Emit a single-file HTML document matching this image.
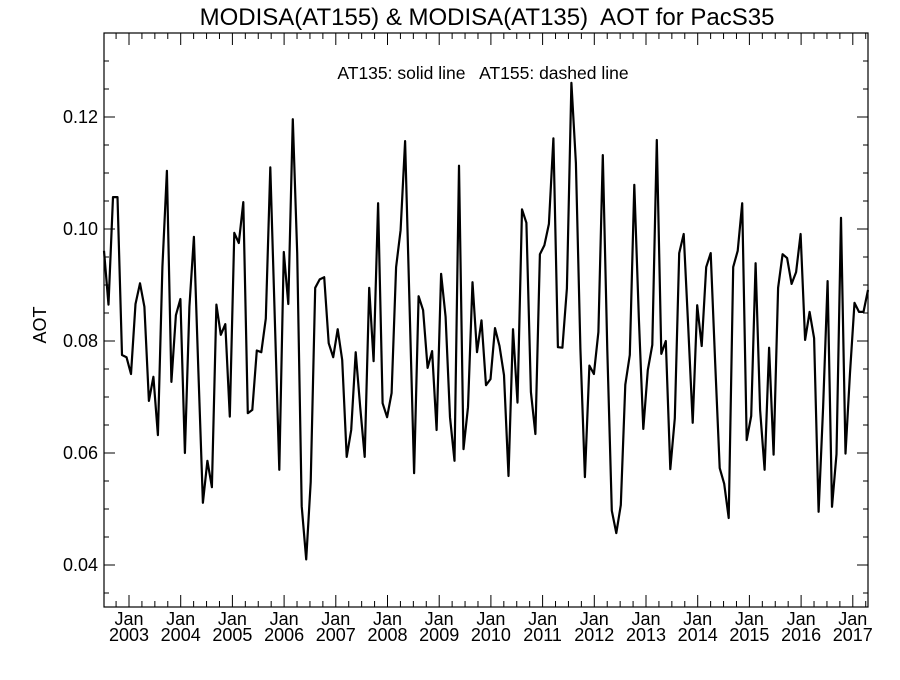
<!DOCTYPE html>
<html><head><meta charset="utf-8"><style>
body{margin:0;background:#fff}
svg text{font-family:"Liberation Sans",sans-serif;fill:#000}
</style></head><body>
<svg width="900" height="675" xmlns="http://www.w3.org/2000/svg">
<text x="487" y="25" font-size="24" text-anchor="middle">MODISA(AT155) &amp; MODISA(AT135)&#160; AOT for PacS35</text>
<text x="483" y="79" font-size="17.5" text-anchor="middle">AT135: solid line&#160;&#160; AT155: dashed line</text>
<text x="46" y="325" font-size="18" text-anchor="middle" transform="rotate(-90 46 325)">AOT</text>
<rect x="104" y="33" width="764" height="574" fill="none" stroke="#000" stroke-width="1.2"/>
<g id="axes"></g>
<path id="series" fill="none" stroke="#000" stroke-width="2.2" stroke-linejoin="round"/>
</svg>
<script>
const aot135 = [0.0961,0.0865,0.1057,0.1057,0.0775,0.0771,0.0741,0.0866,0.0903,0.0861,0.0693,0.0736,0.0632,0.0932,0.1104,0.0727,0.0846,0.0875,0.0600,0.0861,0.0986,0.0745,0.0511,0.0586,0.0539,0.0865,0.0811,0.0830,0.0665,0.0993,0.0975,0.1048,0.0671,0.0677,
0.0783,0.0780,0.0840,0.1110,0.0840,0.0570,0.0959,0.0866,0.1196,0.0957,0.0505,0.0410,0.0548,0.0895,0.0910,0.0914,0.0796,0.0771,0.0821,0.0766,0.0593,0.0641,0.0780,0.0682,0.0593,0.0895,0.0764,0.1046,0.0689,0.0664,0.0707,0.0932,0.0998,0.1157,
0.0860,0.0564,0.0880,0.0855,0.0752,0.0782,0.0641,0.0920,0.0843,0.0664,0.0586,0.1113,0.0607,0.0682,0.0905,0.0780,0.0837,0.0721,0.0732,0.0823,0.0791,0.0739,0.0559,0.0821,0.0690,0.1035,0.1011,0.0709,0.0634,0.0955,0.0971,0.1009,0.1162,
0.0789,0.0788,0.0894,0.1261,0.1118,0.0786,0.0557,0.0756,0.0741,0.0816,0.1132,0.0784,0.0497,0.0457,0.0507,0.0722,0.0775,0.1079,0.0843,0.0643,0.0748,0.0793,0.1159,0.0777,0.0800,0.0571,0.0662,0.0957,0.0991,0.0826,0.0654,0.0864,0.0791,0.0932,0.0957,
0.0760,0.0573,0.0545,0.0484,0.0932,0.0961,0.1046,0.0623,0.0666,0.0939,0.0677,0.0570,0.0788,0.0597,0.0895,0.0955,0.0948,0.0902,0.0923,0.0991,0.0802,0.0852,0.0805,0.0495,0.0681,0.0907,0.0504,0.0598,0.1020,0.0599,0.0743,0.0868,0.0852,0.0852,0.0891];
const yTicks = [0.04,0.06,0.08,0.10,0.12];
const yTickLabels = ["0.04","0.06","0.08","0.10","0.12"];
const years = [2003,2004,2005,2006,2007,2008,2009,2010,2011,2012,2013,2014,2015,2016,2017];

const X0=104,X1=868,Y0=33,Y1=607;
function yScale(v){return 117+(0.12-v)*5600;}
function xYear(y){return 129+(y-2003)*51.7;}
function xIdx(i){return X0+i*(X1-X0)/(aot135.length-1);}
const NS="http://www.w3.org/2000/svg";
const g=document.getElementById('axes');
function line(x1,y1,x2,y2,name){const l=document.createElementNS(NS,'line');l.setAttribute('x1',x1);l.setAttribute('y1',y1);l.setAttribute('x2',x2);l.setAttribute('y2',y2);l.setAttribute('stroke','#000');l.setAttribute('stroke-width','1');


g.appendChild(l);}
function text(x,y,s,anchor,name){const t=document.createElementNS(NS,'text');t.setAttribute('x',x);t.setAttribute('y',y);t.setAttribute('font-size','18');t.setAttribute('text-anchor',anchor);t.textContent=s;


g.appendChild(t);}
for(let v=0.035;v<=0.1351;v+=0.005){const y=yScale(v);if(y<Y0||y>Y1)continue;line(X0,y,X0+5,y,'y-minor-tick');line(X1,y,X1-5,y,'y-minor-tick');}
yTicks.forEach((v,i)=>{const y=yScale(v);line(X0,y,X0+11,y,'y-major-tick');line(X1,y,X1-11,y,'y-major-tick');text(X0-6,y+6,yTickLabels[i],'end','y-tick-label');});
for(let yr=2002;yr<=2018;yr++){for(let q=0;q<4;q++){const x=xYear(yr+q/4);if(x<X0+1||x>X1-1)continue;const len=q===0?12:6;line(x,Y1,x,Y1-len,'x-tick');line(x,Y0,x,Y0+len,'x-tick');}}
years.forEach(yr=>{const x=xYear(yr);text(x,625,'Jan','middle','x-tick-month');text(x,641,String(yr),'middle','x-tick-year');});
let d='';aot135.forEach((v,i)=>{d+=(i?'L':'M')+xIdx(i).toFixed(1)+' '+yScale(v).toFixed(1);});
document.getElementById('series').setAttribute('d',d);
</script>
</body></html>
